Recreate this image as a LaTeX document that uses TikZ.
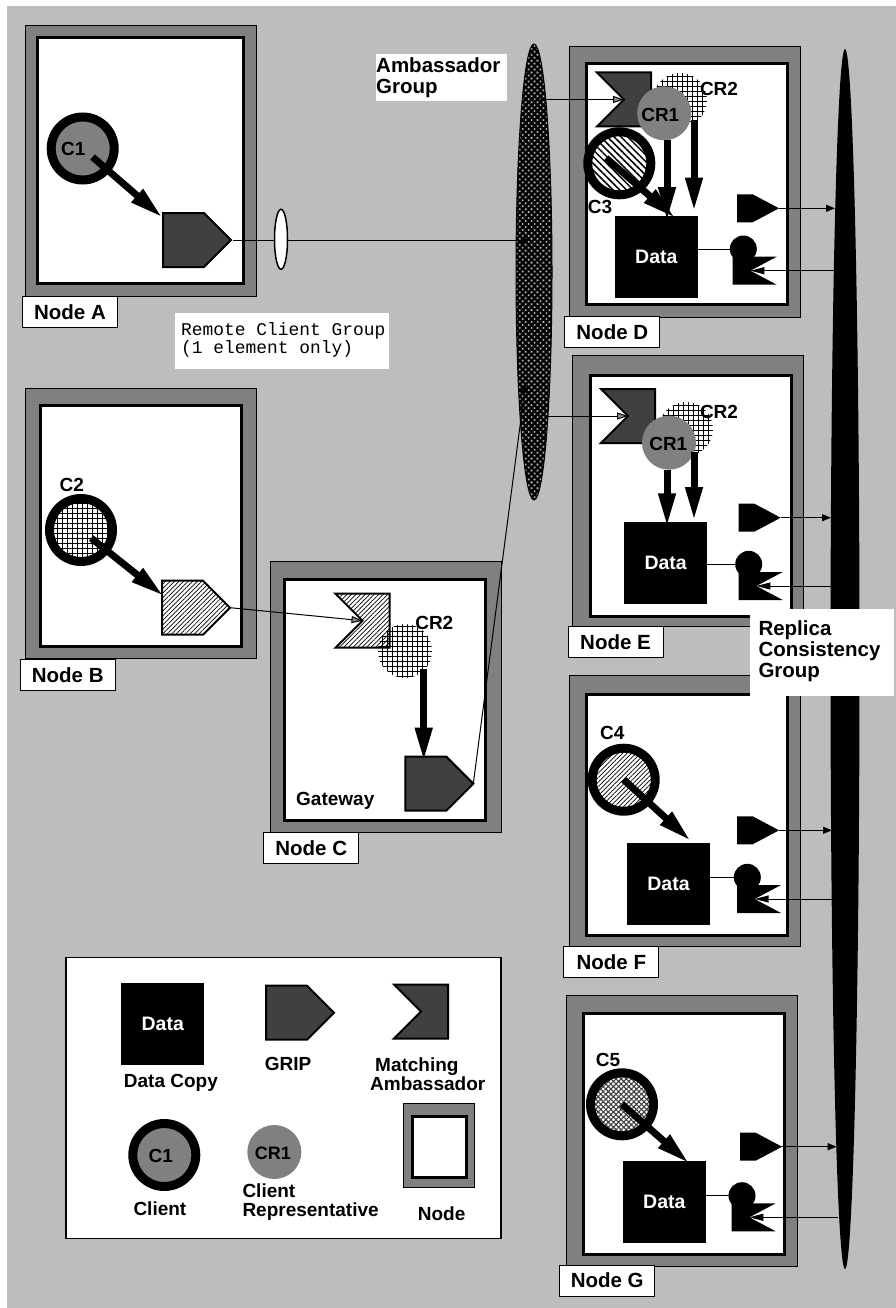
\documentclass[tikz,border=0pt]{standalone}
\usepackage{fontspec}
\setmainfont{Liberation Sans}
\setmonofont{Liberation Mono}
\usetikzlibrary{shapes.symbols,shapes.geometric,patterns.meta,arrows.meta}
\definecolor{paper}{gray}{0.74}
\definecolor{nodegray}{gray}{0.5}
\definecolor{gripgray}{gray}{0.25}
\tikzset{
	outerbox/.style={draw=black, line width=1pt, fill=nodegray, shape=rectangle, inner sep=0pt, outer sep=0pt},
	innerbox/.style={draw=black, line width=3pt, fill=white, shape=rectangle, inner sep=0pt, outer sep=0pt},
	nodelabel/.style={draw=black, line width=1pt, fill=white, shape=rectangle, minimum width=95pt, minimum height=31pt, inner sep=0pt, font=\fontsize{20.5}{21}\selectfont\bfseries},
	txt/.style={inner sep=0pt, font=\fontsize{19}{19}\selectfont\bfseries},
	txtbig/.style={inner sep=0pt, font=\fontsize{20.5}{21}\selectfont\bfseries, align=left},
	whitebox/.style={fill=white, shape=rectangle, inner sep=0pt, outer sep=0pt},
	data/.style={fill=black, shape=rectangle, minimum width=83pt, minimum height=82pt, inner sep=0pt, outer sep=0pt, text=white, font=\fontsize{19.5}{20}\selectfont\bfseries},
	ring/.style={draw=black, line width=9pt, shape=circle, minimum size=63pt, inner sep=0pt, outer sep=0pt},
	rep/.style={shape=circle, minimum size=54pt, inner sep=0pt, outer sep=0pt},
	grip/.style={shape=signal, signal to=east, signal from=nowhere, signal pointer angle=90, minimum width=68pt, minimum height=54pt, inner sep=0pt, outer sep=0pt, draw=black, line width=2pt, fill=gripgray},
	amb/.style={shape=signal, signal to=nowhere, signal from=west, signal pointer angle=90, minimum width=54pt, minimum height=54pt, inner sep=0pt, outer sep=0pt, draw=black, line width=2pt, fill=gripgray},
	sgrip/.style={shape=signal, signal to=east, signal from=nowhere, signal pointer angle=56, minimum width=42pt, minimum height=28pt, inner sep=0pt, outer sep=0pt, fill=black},
	samb/.style={shape=signal, signal to=nowhere, signal from=east, signal pointer angle=56, minimum width=44pt, minimum height=28pt, inner sep=0pt, outer sep=0pt, fill=black},
	knob/.style={shape=circle, fill=black, minimum size=27pt, inner sep=0pt, outer sep=0pt},
	fatarrow/.style={line width=7pt, shorten >=-5pt, -{Triangle[length=34pt,width=16pt]}},
	thinarrow/.style={line width=1pt, -{Triangle[length=9pt,width=7pt]}},
	backarrow/.style={line width=1pt, -{Triangle[length=14pt,width=7pt]}},
	openarrow/.style={line width=1pt, -{Triangle[length=11pt,width=7pt,fill=black!45]}},
	grid/.style={pattern={Hatch[angle=0,distance=5.4pt,line width=0.8pt]}},
	slash/.style={pattern={Lines[angle=45,distance=3.2pt,line width=0.7pt]}},
	backslash/.style={pattern={Lines[angle=-45,distance=4.8pt,line width=1.5pt]}},
	dots/.style={pattern={Hatch[angle=45,distance=3.6pt,line width=1.1pt]}, pattern color=black!75},
	weave/.style={pattern={Hatch[angle=45,distance=4.2pt,line width=2.4pt]}},
}
\begin{document}
\begin{tikzpicture}[x=1pt, y=-1pt]
	\useasboundingbox (0, 0) rectangle (896, 1308);
	\fill[fill=paper] (7, 6) rectangle (896, 1308);

	% node A
	\node [outerbox, minimum width=231pt, minimum height=270pt] (outerA) at (141, 161) {};
	\node [innerbox, minimum width=206pt, minimum height=246pt] (innerA) at (140.5, 160.5) {};
	\node [nodelabel] (labA) at (70, 312) {Node A};
	\node [ring, fill=nodegray] (c1) at (82.7, 148.5) {};
	\node [txt] (txtC1) at (73.3, 149) {C1};
	\node [grip, anchor=west] (gripA) at (163, 240) {};
	\coordinate (tipA) at (159, 214.5);
	\draw[fatarrow, shorten <=13pt] (c1.center) -- (tipA);

	% node B
	\node [outerbox, minimum width=231pt, minimum height=270pt] (outerB) at (141, 523.7) {};
	\node [innerbox, minimum width=201pt, minimum height=241pt] (innerB) at (140.7, 525.8) {};
	\node [nodelabel] (labB) at (67.7, 674.7) {Node B};
	\node [ring, fill=white, grid] (c2) at (81, 530) {};
	\node [txt] (txtC2) at (71.7, 485) {C2};
	\node [grip, anchor=west, fill=white, slash] (gripB) at (162, 607.7) {};
	\coordinate (tipB) at (160, 593);
	\draw[fatarrow, shorten <=13pt] (c2.center) -- (tipB);

	% node C
	\node [outerbox, minimum width=231pt, minimum height=271pt] (outerC) at (385.7, 697.2) {};
	\node [innerbox, minimum width=201pt, minimum height=241pt] (innerC) at (385, 700.3) {};
	\node [nodelabel] (labC) at (311.2, 848.3) {Node C};
	\node [amb, anchor=east, fill=white, slash] (ambC) at (389.5, 620.7) {};
	\node [rep, fill=white, grid] (cr2C) at (405, 651) {};
	\node [txt] (txtCR2C) at (434.3, 623.3) {CR2};
	\node [grip, anchor=west] (gripC) at (405.3, 783.7) {};
	\node [txt, anchor=west] (txtGate) at (296, 800.7) {Gateway};
	\coordinate (outC) at (423.7, 669);
	\draw[fatarrow] (outC) -- (outC |- gripC.north west);
	\draw[openarrow] (gripB.east) -- (ambC.west);

	% node D
	\node [outerbox, minimum width=231pt, minimum height=271pt] (outerD) at (684.5, 182) {};
	\node [innerbox, minimum width=201pt, minimum height=241pt] (innerD) at (687, 184.3) {};
	\node [nodelabel] (labD) at (612.3, 332.2) {Node D};
	\node [amb, anchor=east] (ambD) at (651, 99.5) {};
	\node [rep, fill=white, grid] (cr2D) at (680, 100) {};
	\node [txt] (txtCR2D) at (719, 89) {CR2};
	\node [rep, fill=nodegray] (cr1D) at (664.2, 113.3) {};
	\node [txt] (txtCR1D) at (660.3, 114.7) {CR1};
	\node [ring, fill=white, backslash] (c3) at (619.3, 163.3) {};
	\node [txt] (txtC3) at (600, 206.7) {C3};
	\node [data] (dataD) at (656.3, 257.2) {Data};
	\node [sgrip, anchor=west] (gripD) at (737, 208.3) {};
	\node [knob] (knobD) at (743.3, 249) {};
	\node [samb, anchor=west] (srcD) at (732.7, 270.7) {};
	\coordinate (outC3) at (606, 158);
	\coordinate (tipC3) at (671.7, 215);
	\coordinate (out1D) at (667, 140);
	\coordinate (out2D) at (694, 120);
	\coordinate (tip2D) at (694, 206.7);
	\draw[fatarrow] (outC3) -- (tipC3);
	\draw[fatarrow] (out1D) -- (out1D |- dataD.north);
	\draw[fatarrow] (out2D) -- (tip2D);
	\draw[line width=1pt] (knobD.west -| dataD.east) -- (knobD.west);

	% node E
	\node [outerbox, minimum width=231pt, minimum height=271pt] (outerE) at (687.7, 491.2) {};
	\node [innerbox, minimum width=201pt, minimum height=241pt] (innerE) at (691, 496) {};
	\node [nodelabel] (labE) at (615.5, 642.3) {Node E};
	\node [amb, anchor=east] (ambE) at (655, 416) {};
	\node [rep, fill=white, grid] (cr2E) at (686, 429) {};
	\node [txt] (txtCR2E) at (719, 411.7) {CR2};
	\node [rep, fill=nodegray] (cr1E) at (669, 442.7) {};
	\node [txt] (txtCR1E) at (668.3, 443.7) {CR1};
	\node [data] (dataE) at (665.7, 563.3) {Data};
	\node [sgrip, anchor=west] (gripE) at (738.7, 517.7) {};
	\node [knob] (knobE) at (748.7, 564.3) {};
	\node [samb, anchor=west] (srcE) at (738.7, 586) {};
	\coordinate (out1E) at (667, 470);
	\coordinate (out2E) at (694, 452);
	\coordinate (tip2E) at (694, 516);
	\draw[fatarrow] (out1E) -- (out1E |- dataE.north);
	\draw[fatarrow] (out2E) -- (tip2E);
	\draw[line width=1pt] (knobE.west -| dataE.east) -- (knobE.west);

	% node F
	\node [outerbox, minimum width=231pt, minimum height=271pt] (outerF) at (685, 810.8) {};
	\node [innerbox, minimum width=201pt, minimum height=241pt] (innerF) at (686.8, 814.5) {};
	\node [nodelabel] (labF) at (611.3, 962) {Node F};
	\node [ring, fill=white, slash] (c4) at (623.7, 779.7) {};
	\node [txt] (txtC4) at (612.3, 732.7) {C4};
	\node [data] (dataF) at (668.5, 884) {Data};
	\node [sgrip, anchor=west] (gripF) at (737, 830.3) {};
	\node [knob] (knobF) at (747.3, 877.3) {};
	\node [samb, anchor=west] (srcF) at (737, 899) {};
	\coordinate (tipC4) at (687.3, 837.7);
	\draw[fatarrow] (c4.center) -- (tipC4);
	\draw[line width=1pt] (knobF.west -| dataF.east) -- (knobF.west);

	% node G
	\node [outerbox, minimum width=231pt, minimum height=271pt] (outerG) at (682.2, 1130.5) {};
	\node [innerbox, minimum width=201pt, minimum height=241pt] (innerG) at (684.2, 1134.2) {};
	\node [nodelabel] (labG) at (607.2, 1280.5) {Node G};
	\node [ring, fill=white, dots] (c5) at (622, 1104.3) {};
	\node [txt] (txtC5) at (608, 1060) {C5};
	\node [data] (dataG) at (664.3, 1202.2) {Data};
	\node [sgrip, anchor=west] (gripG) at (740, 1146.7) {};
	\node [knob] (knobG) at (742, 1195.7) {};
	\node [samb, anchor=west] (srcG) at (731.7, 1217.3) {};
	\coordinate (tipC5) at (685.7, 1160.3);
	\draw[fatarrow] (c5.center) -- (tipC5);
	\draw[line width=1pt] (knobG.west -| dataG.east) -- (knobG.west);

	% the two groups
	\node [shape=ellipse, draw=black, line width=1pt, fill=white, weave, minimum width=36pt, minimum height=456pt, inner sep=0pt, outer sep=0pt] (ambgroup) at (534, 272) {};
	\node [shape=ellipse, fill=black, minimum width=29pt, minimum height=1220pt, inner sep=0pt, outer sep=0pt] (replgroup) at (845, 659) {};

	% connectors
	\coordinate (inA) at (530, 240);
	\coordinate (outD) at (540, 99.5);
	\coordinate (outE) at (547.7, 416);
	\coordinate (inC) at (525.5, 384);
	\draw[thinarrow] (gripC.east) -- (inC);
	\draw[openarrow] (outD) -- (ambD.west);
	\draw[openarrow] (outE) -- (ambE.west);
	\draw[thinarrow] ([xshift=2pt]gripA.east) -- (inA);
	\node [shape=ellipse, draw=black, line width=1.5pt, fill=white, minimum width=13pt, minimum height=60pt, inner sep=0pt] (remote) at (281, 239.3) {};
	\coordinate (inD) at (835, 208.3);
	\coordinate (fromD) at (835, 270.7);
	\coordinate (inE) at (831, 517.7);
	\coordinate (fromE) at (831, 586);
	\coordinate (inF) at (832, 830.3);
	\coordinate (fromF) at (832, 899);
	\coordinate (inG) at (836.7, 1146.7);
	\coordinate (fromG) at (838, 1217.3);
	\draw[thinarrow] (gripD.east) -- (inD);
	\draw[backarrow] (fromD) -- (srcD.east);
	\draw[thinarrow] (gripE.east) -- (inE);
	\draw[backarrow] (fromE) -- (srcE.east);
	\draw[thinarrow] (gripF.east) -- (inF);
	\draw[backarrow] (fromF) -- (srcF.east);
	\draw[thinarrow] (gripG.east) -- (inG);
	\draw[backarrow] (fromG) -- (srcG.east);

	% texts on white
	\node [whitebox, minimum width=131pt, minimum height=47pt] (boxAmb) at (441.5, 77.5) {};
	\node [txtbig, anchor=west] (txtAmb) at (376, 77.5) {Ambassador\\Group};
	\node [whitebox, minimum width=214pt, minimum height=56pt] (boxRem) at (282, 340.7) {};
	\node [inner sep=0pt, anchor=west, align=left, font=\fontsize{17.9}{17.5}\selectfont\ttfamily] (txtRem) at (181, 340) {Remote Client Group\\(1 element only)};
	\node [whitebox, minimum width=144pt, minimum height=87pt] (boxRep) at (822, 652.5) {};
	\node [txtbig, anchor=west] (txtRep) at (758.3, 651.5) {Replica\\Consistency\\Group};

	% legend
	\node [draw=black, line width=1.2pt, fill=white, shape=rectangle, minimum width=435pt, minimum height=281pt, inner sep=0pt, outer sep=0pt] (legend) at (283.5, 1098) {};
	\node [data] (legData) at (162.8, 1023.8) {Data};
	\node [txt, anchor=west] (legDataTxt) at (123.7, 1083) {Data Copy};
	\node [grip, anchor=west] (legGrip) at (266, 1012.7) {};
	\node [txt, anchor=west] (legGripTxt) at (264.7, 1064) {GRIP};
	\node [amb, anchor=east] (legAmb) at (448, 1011.5) {};
	\node [txt, anchor=west, align=left] (legAmbTxt) at (370, 1074) {\hspace*{5pt}Matching\\Ambassador};
	\node [ring, fill=nodegray] (legClient) at (164.3, 1155) {};
	\node [txt] (legC1) at (160.7, 1156) {C1};
	\node [txt, anchor=west] (legClientTxt) at (133.3, 1209) {Client};
	\node [rep, fill=nodegray] (legRep) at (274.3, 1152) {};
	\node [inner sep=0pt, font=\fontsize{18}{18}\selectfont\bfseries] (legCR1) at (273, 1153) {CR1};
	\node [txt, anchor=west, align=left] (legRepTxt) at (242.3, 1202.5) {Client\\Representative};
	\node [outerbox, minimum width=71pt, minimum height=84pt] (legOuter) at (439, 1145.7) {};
	\node [innerbox, minimum width=54pt, minimum height=61pt] (legInner) at (439, 1146.7) {};
	\node [txt, anchor=west] (legNodeTxt) at (417.7, 1213.3) {Node};
\end{tikzpicture}
\end{document}
